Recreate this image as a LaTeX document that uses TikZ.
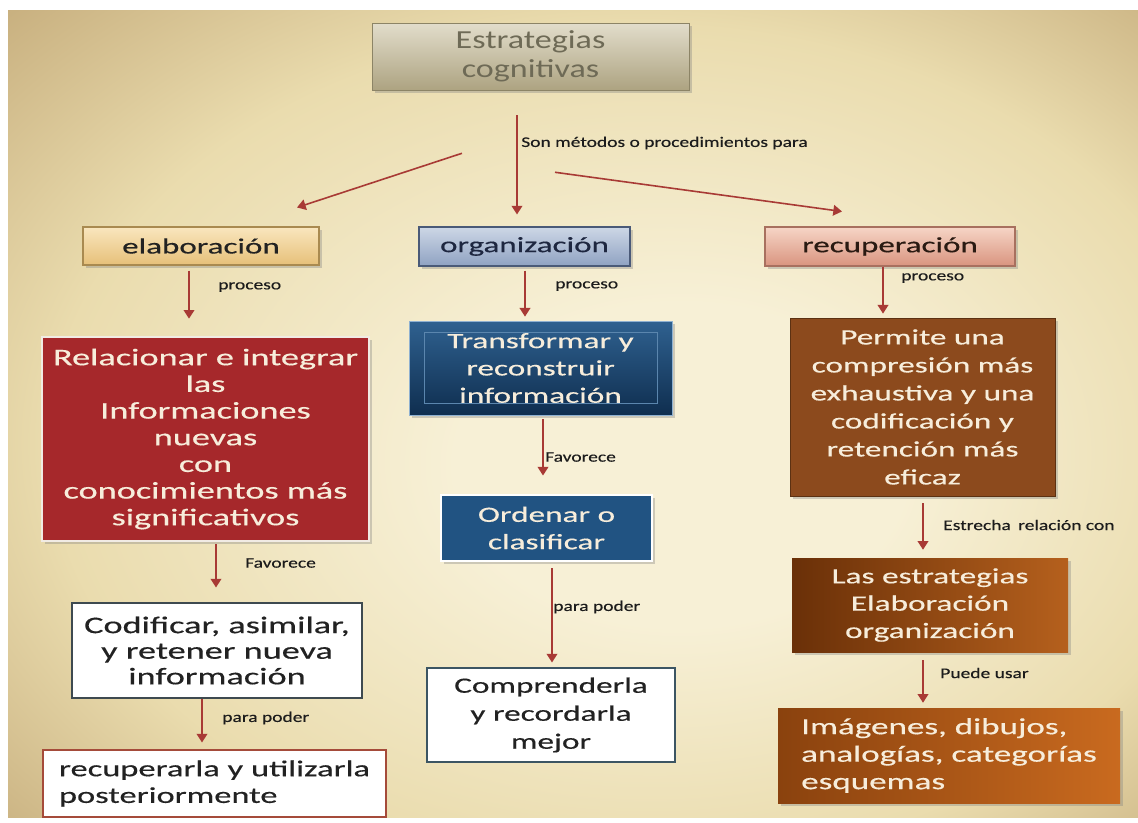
\documentclass[tikz,border=0pt]{standalone}
\usepackage{xcolor}
\usepackage{fontspec}
\setmainfont{Carlito}
\newfontfamily\boxfont{Carlito}[FakeStretch=1.52, FakeBold=0.4]
\newfontfamily\titlefont{Carlito}[FakeStretch=1.31]
\newfontfamily\labfont{Carlito}[FakeStretch=1.33, FakeBold=0.3]
\usetikzlibrary{shadows, arrows.meta, positioning}

\newlength\pxu
\setlength\pxu{0.75pt}

\definecolor{bgin}{HTML}{F7F0D6}
\definecolor{bgmid}{HTML}{EADCAE}
\definecolor{bgout}{HTML}{C6AD7C}
\definecolor{titletop}{HTML}{E2DDCB}
\definecolor{titlebot}{HTML}{ADA381}
\definecolor{titledraw}{HTML}{8C8466}
\definecolor{titletxt}{HTML}{6E6A56}
\definecolor{elabtop}{HTML}{F9E6BE}
\definecolor{elabbot}{HTML}{E6C079}
\definecolor{elabdraw}{HTML}{A98A50}
\definecolor{orgtop}{HTML}{CDD7E6}
\definecolor{orgbot}{HTML}{8FA2C2}
\definecolor{orgdraw}{HTML}{4A5A78}
\definecolor{orgtxt}{HTML}{1E2740}
\definecolor{rectop}{HTML}{F6D5C6}
\definecolor{recbot}{HTML}{D9947F}
\definecolor{recdraw}{HTML}{A8705F}
\definecolor{rectxt}{HTML}{2A1A12}
\definecolor{relfill}{HTML}{A6282B}
\definecolor{reldraw}{HTML}{F1EBE4}
\definecolor{transtop}{HTML}{2F6190}
\definecolor{transbot}{HTML}{0F2E4F}
\definecolor{transdraw}{HTML}{8FB1D1}
\definecolor{transin}{HTML}{5B86AE}
\definecolor{ordfill}{HTML}{215382}
\definecolor{codraw}{HTML}{3E4A50}
\definecolor{compdraw}{HTML}{3C5563}
\definecolor{recudraw}{HTML}{A54B3A}
\definecolor{permfill}{HTML}{8C4A1D}
\definecolor{permdraw}{HTML}{5C3112}
\definecolor{estrleft}{HTML}{6A3008}
\definecolor{estrright}{HTML}{B5601D}
\definecolor{imgleft}{HTML}{8A420E}
\definecolor{imgright}{HTML}{C96A1F}
\definecolor{boxtxt}{HTML}{F7EDDB}
\definecolor{darktxt}{HTML}{222222}
\definecolor{arrred}{HTML}{A83A35}
\definecolor{labtxt}{HTML}{1C1C1C}

\pgfdeclareradialshading{bgshade}{\pgfpoint{6bp}{-4bp}}{color(0bp)=(bgin); color(10bp)=(bgin); color(26bp)=(bgmid); color(38bp)=(bgout); color(50bp)=(bgout)}

\begin{document}
\begin{tikzpicture}[x=0.75pt, y=-0.75pt,
    box/.style={rectangle, inner sep=0pt, align=center, text=boxtxt,
      font=\boxfont\fontsize{16.4}{20.5}\selectfont},
    headbox/.style={box, line width=0.8pt, font=\boxfont\fontsize{16.3}{19}\selectfont},
    shad/.style={drop shadow={shadow xshift=2pt, shadow yshift=-2pt, opacity=.35}},
    lab/.style={anchor=west, inner sep=0pt, text=labtxt,
      font=\labfont\fontsize{11}{13}\selectfont},
    arr/.style={draw=arrred, line width=1.2pt, -{Triangle[width=8pt,length=6.5pt]}}
  ]
  \useasboundingbox[fill=white] (0,0) rectangle (1138,822);
  \shade[shading=bgshade] (8,10) rectangle (1138,817);

  \node[box, draw=titledraw, top color=titletop, bottom color=titlebot, shad,
    minimum width=317\pxu, minimum height=67\pxu, text=titletxt,
    font=\titlefont\fontsize{19.5}{21.75}\selectfont] (estrat) at (530.5,56.5) {Estrategias\\cognitivas};

  % segundo nivel
  \begin{scope}[every node/.style={headbox, shad}]
    \node[draw=elabdraw, top color=elabtop, bottom color=elabbot, text=darktxt,
      minimum width=236\pxu, minimum height=38\pxu] (elab) at (201,246) {elaboración};
    \node[draw=orgdraw, top color=orgtop, bottom color=orgbot, text=orgtxt,
      minimum width=211\pxu, minimum height=39\pxu] (organ) at (524.5,246.5) {organización};
    \node[draw=recdraw, top color=rectop, bottom color=recbot, text=rectxt,
      minimum width=250\pxu, minimum height=39\pxu] (recup) at (890,246.5) {recuperación};
  \end{scope}

  \begin{scope}[every node/.style={box}]
    \node[fill=relfill, draw=reldraw, line width=2pt, shad, minimum width=327\pxu, minimum height=204\pxu,
      font=\boxfont\fontsize{17.9}{20}\selectfont] (relac) at (205.5,439)
      {Relacionar e integrar\\las\\Informaciones\\nuevas\\con\\conocimientos más\\significativos};
    \node[draw=codraw, fill=white, text=darktxt, line width=0.8pt, minimum width=290\pxu, minimum height=95\pxu,
      font=\boxfont\fontsize{17.9}{19.2}\selectfont] (codif) at (217,650.5)
      {Codificar, asimilar,\\y retener nueva\\información};
    \node[draw=recudraw, fill=white, text=darktxt, line width=0.8pt, align=left, minimum width=343\pxu, minimum height=67\pxu,
      font=\boxfont\fontsize{17}{20}\selectfont] (recul) at (214.5,783.5)
      {recuperarla y utilizarla\\posteriormente};

    \node[draw=transdraw, top color=transtop, bottom color=transbot, line width=0.6pt, shad,
      minimum width=263\pxu, minimum height=94\pxu] (transf) at (540.5,368)
      {Transformar y\\reconstruir\\información};
    \node[fill=ordfill, draw=white, line width=2.2pt, shad, minimum width=211\pxu, minimum height=66\pxu] (orden) at (546.5,528)
      {Ordenar o\\clasificar};
    \node[draw=compdraw, fill=white, text=darktxt, line width=0.8pt, minimum width=248\pxu, minimum height=94\pxu,
      font=\boxfont\fontsize{16.4}{21}\selectfont] (compr) at (551,715)
      {Comprenderla\\y recordarla\\mejor};

    \node[fill=permfill, draw=permdraw, line width=0.6pt, shad, minimum width=265\pxu, minimum height=178\pxu,
      font=\boxfont\fontsize{16.4}{21}\selectfont] (permi) at (922.5,407)
      {Permite una\\compresión más\\exhaustiva y una\\codificación y\\retención más\\eficaz};
    \node[left color=estrleft, right color=estrright, shad, minimum width=276\pxu, minimum height=94\pxu] (lasest) at (930,605)
      {Las estrategias\\Elaboración\\organización};
    \node[left color=imgleft, right color=imgright, shad, align=left, minimum width=342\pxu, minimum height=95\pxu,
      font=\boxfont\fontsize{17.3}{20.6}\selectfont] (image) at (949,755.5)
      {Imágenes, dibujos,\\analogías, categorías\\esquemas};
  \end{scope}
  \draw[transin, line width=0.6pt] ([shift={(16,12)}]transf.north west) rectangle ([shift={(-15,-12)}]transf.south east);

  % etiquetas
  \node[lab] (lbmet) at (521,143) {Son métodos o procedimientos para};
  \node[lab] (lbpr1) at (218,287) {proceso};
  \node[lab] (lbpr2) at (555,286) {proceso};
  \node[lab] (lbpr3) at (901,278) {proceso};
  \node[lab] (lbfa1) at (245,563) {Favorece};
  \node[lab] (lbpa1) at (222,718) {para poder};
  \node[lab] (lbfa2) at (545,457) {Favorece};
  \node[lab] (lbpa2) at (553,607) {para poder};
  \node[lab] (lbest) at (943,525) {Estrecha\enspace relación con};
  \node[lab] (lbpue) at (940,673) {Puede usar};

  \begin{scope}[every edge/.style={arr}]
    \path ([shift={(-68.5,63)}]estrat.south) edge ([shift={(96,-19)}]elab.north);
    \path ([shift={(-13.5,25)}]estrat.south) edge ([shift={(-7.5,-12)}]organ.north);
    \path ([shift={(24.5,82)}]estrat.south) edge ([shift={(-48,-15)}]recup.north);
    \path ([shift={(-12,5)}]elab.south) edge ([shift={(-16.5,-17)}]relac.north);
    \path ([shift={(10.5,2)}]relac.south) edge ([shift={(-1,-15)}]codif.north);
    \path ([shift={(-15,0)}]codif.south) edge ([shift={(-12.5,-7)}]recul.north);
    \path ([shift={(0.5,4)}]organ.south) edge ([shift={(-15.5,-4)}]transf.north);
    \path ([shift={(2.5,4)}]transf.south) edge ([shift={(-3.5,-18)}]orden.north);
    \path ([shift={(5.5,6)}]orden.south) edge ([shift={(1,-5)}]compr.north);
    \path ([shift={(-7,0)}]recup.south) edge ([shift={(-39.5,-4)}]permi.north);
    \path ([shift={(0.5,7)}]permi.south) edge ([shift={(-7,-8)}]lasest.north);
    \path ([shift={(-7,8)}]lasest.south) edge ([shift={(-26,-5)}]image.north);
  \end{scope}
\end{tikzpicture}
\end{document}
